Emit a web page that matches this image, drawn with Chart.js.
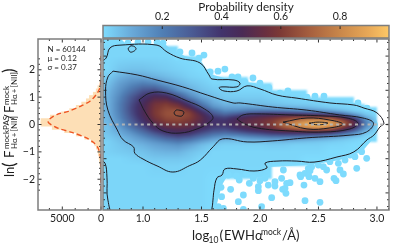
<!DOCTYPE html>
<html><head><meta charset="utf-8">
<style>html,body{margin:0;padding:0;background:#fff;overflow:hidden}canvas{position:absolute;left:0;top:0}</style>
<script src="https://cdn.jsdelivr.net/npm/chart.js@4/dist/chart.umd.min.js"></script>
</head><body>
<canvas id="hist" width="397" height="245"></canvas>
<canvas id="main" width="397" height="245"></canvas>
<canvas id="cbar" width="397" height="245"></canvas>
<script>
// ---------- DATA ----------
const mainXTicks=[1.0,1.5,2.0,2.5,3.0];
const mainXMinor=[0.7,0.8,0.9,1.1,1.2,1.3,1.4,1.6,1.7,1.8,1.9,2.1,2.2,2.3,2.4,2.6,2.7,2.8,2.9,3.1];
const yTicks=[-2,-1,0,1,2];
const yMinor=[-2.4,-2.2,-1.8,-1.6,-1.4,-1.2,-0.8,-0.6,-0.4,-0.2,0.2,0.4,0.6,0.8,1.2,1.4,1.6,1.8,2.2,2.4];
const histXTicks=[0,5000];
const histXMinor=[1667,3333,6667];
const cbarTicks=[0.2,0.4,0.6,0.8];
const cbarMinor=[];
const cmapV=[0,0.1,0.2,0.3,0.4,0.47,0.55,0.6,0.7,0.8,0.9,0.965];
const cmapC=['#7edbfd','#68a8d8','#507fb5','#4a5b94','#42336c','#4a2a55','#6a2f3f','#7d3a35','#a7603f','#c9874a','#e9aa58','#fdc866'];
const statsText=['N = 60144','\u03bc = 0.12','\u03c3 = 0.37'];

// histogram (bin centre, count)
const histY=[1.94,1.82,1.70,1.58,1.46,1.34,1.22,1.10,0.98,0.86,0.74,0.62,0.50,0.38,0.26,0.14,0.02,-0.10,-0.22,-0.34,-0.46,-0.58,-0.70,-0.82,-0.94,-1.06,-1.18,-1.30,-1.42,-1.54,-1.66,-1.78,-1.90,-2.02];
const histN=[20,40,60,100,150,400,620,1000,1500,1900,2500,3200,4050,5100,6550,7750,7750,6300,4700,3200,2100,1250,800,600,400,350,250,200,120,80,50,30,20,10];
// dashed curve over histogram
const curveY=[2.5,1.8,1.5,1.3,1.1,0.86,0.66,0.48,0.37,0.22,0.13,0.04,-0.14,-0.29,-0.47,-0.65,-0.85,-1.13,-1.6,-2.5];
const curveN=[10,20,50,200,600,1380,2675,4220,5650,6550,6850,6680,5510,3750,2030,1000,400,90,30,10];

// density grid (percent of unit density)
const heatX=[0.7,0.8,0.9,1.0,1.1,1.2,1.3,1.4,1.5,1.6,1.7,1.8,1.9,2.0,2.1,2.2,2.3,2.4,2.5,2.6,2.7,2.8,2.9,3.0];
const heatY=[2.0,1.6,1.4,1.2,1.0,0.8,0.6,0.5,0.4,0.3,0.2,0.1,0,-0.1,-0.2,-0.3,-0.4,-0.5,-0.6,-0.8,-1.0,-1.2,-1.6,-2.2];
const heatRows=[
[1,1,1,1,1,1,0,0,0,0,0,0,0,0,0,0,0,0,0,0,0,0,0,0],
[1,4,5,5,4,3,2,1,0,0,0,0,0,0,0,0,0,0,0,0,0,0,0,0],
[3,8,11,10,8,6,4,2,1,0,0,0,0,0,0,0,0,0,0,0,0,0,0,0],
[5,12,17,20,18,12,8,5,3,1,1,1,0,0,0,0,0,0,0,0,0,0,0,0],
[7,15,23,31,33,25,15,9,5,3,2,1,1,1,0,0,0,0,0,0,0,0,0,0],
[8,18,30,40,48,47,33,19,10,6,3,3,3,3,2,1,1,0,0,0,0,0,0,0],
[8,20,33,45,57,60,54,38,22,11,7,7,6,6,5,4,3,3,2,1,1,0,0,0],
[8,20,34,46,58,63,60,47,30,16,11,11,12,11,10,9,8,7,5,3,2,1,0,0],
[8,20,34,46,59,65,67,58,40,25,17,18,21,22,22,21,19,17,14,11,7,3,1,0],
[8,19,33,46,59,66,67,62,48,32,26,30,36,40,42,42,41,40,38,33,25,13,4,0],
[7,18,31,44,57,64,65,61,51,39,36,43,49,52,55,60,64,68,68,64,52,35,12,1],
[7,16,29,41,54,61,62,58,50,41,41,48,52,55,60,68,76,82,85,82,70,52,20,2],
[6,15,26,37,49,56,58,55,48,41,41,47,51,54,60,72,82,90,95,90,72,52,21,2],
[5,12,22,32,43,50,52,50,43,37,36,42,47,50,56,66,74,80,82,76,60,42,15,1],
[5,10,17,26,36,43,46,44,37,31,29,33,38,42,46,50,52,54,54,50,38,25,8,1],
[4,8,13,20,28,35,39,36,29,22,19,21,25,28,32,33,33,32,30,26,19,11,3,0],
[3,6,10,15,21,27,30,27,20,14,10,10,13,15,17,17,16,14,12,9,6,3,1,0],
[2,5,8,11,15,19,22,18,12,7,5,5,6,6,7,7,6,5,4,3,2,1,0,0],
[2,4,6,8,11,13,15,11,6,3,2,2,2,2,3,3,2,2,2,1,1,0,0,0],
[2,3,4,5,7,8,8,5,3,1,1,1,1,1,1,1,1,1,1,0,0,0,0,0],
[1,1,2,3,4,4,4,3,1,1,1,1,1,1,1,1,1,0,0,0,0,0,0,0],
[1,1,1,1,2,2,2,1,1,1,1,1,1,1,0,0,0,0,0,0,0,0,0,0],
[1,1,1,1,1,1,1,1,1,0,0,0,0,0,0,0,0,0,0,0,0,0,0,0],
[1,1,1,1,1,1,1,1,1,0,0,0,0,0,0,0,0,0,0,0,0,0,0,0]];

// region with measured galaxies
const supportX=[0.6,0.786,0.846,1.188,1.248,1.359,1.487,1.573,1.786,1.957,2.128,2.342,2.598,2.812,2.923,2.983,3.009,3.0,2.957,2.872,2.684,2.444,2.085,1.872,1.726,1.675,1.641,1.615,0.6];
const supportY=[2.6,2.6,2.38,2.35,2.18,2.0,1.89,1.48,1.27,1.21,0.95,0.77,0.72,0.63,0.48,0.25,0.01,-0.22,-0.45,-0.8,-1.04,-1.18,-1.24,-1.39,-1.48,-1.77,-2.21,-2.56,-2.6];

// isolated points
const dotX=[1.729,1.749,1.652,1.672,1.667,1.644,1.687,1.815,1.858,1.858,1.823,1.886,1.909,1.986,1.986,2.043,2.014,2.0,2.10,2.071,2.128,2.128,2.2,2.185,2.228,2.257,2.194,2.222,2.214,2.348,2.385,2.413,2.442,2.499,2.57,2.67,2.727,2.812,2.912,2.827,2.684,2.713,2.633,2.65,2.513,2.47,2.376,2.385,2.513,2.419,2.342,1.8,1.943,2.428,2.542,2.598,2.77,2.869,
1.521,1.479,1.641,1.70,1.573,1.761,1.812,1.872,1.94,2.0,2.077,2.171,2.239,2.402,2.47,2.547,2.838,2.915,1.316,1.419,1.29,1.171,1.12,0.87,0.957,1.043];
const dotY=[-1.477,-1.896,-1.672,-2.11,-1.838,-2.403,-2.452,-2.257,-2.062,-2.48,-1.623,-1.428,-1.721,-1.818,-1.935,-1.574,-2.403,-1.643,-2.14,-1.77,-1.672,-1.799,-1.331,-1.574,-1.721,-1.701,-1.896,-2.013,-1.867,-1.526,-1.428,-1.282,-1.233,-1.184,-1.331,-1.136,-1.038,-0.941,-0.99,-1.282,-1.331,-1.448,-1.574,-1.643,-1.672,-1.574,-1.77,-2.228,-2.276,-1.526,-1.477,-1.506,-1.574,-1.35,-1.233,-1.087,-0.892,-0.794,
2.03,1.94,1.56,1.62,1.54,1.39,1.39,1.24,1.36,1.21,1.07,0.92,0.98,0.80,0.83,0.83,0.63,0.48,2.12,2.09,1.97,2.38,2.41,2.38,2.41,2.41];

// contours
const c1X=[0.632,0.684,0.718,0.803,1.12,1.205,1.316,1.487,1.564,1.59,1.778,1.829,1.803,1.675,1.65,1.692,1.803,1.889,2.0,2.145,2.316,2.598,2.803,2.889,3.0,3.06,3.026,2.974,2.915,2.803,2.658,2.462,2.316,2.145,2.043,2.06,1.949,1.803,1.70,1.675,1.632,1.607,1.598,1.59,1.573,0.761,0.70,0.692,0.675,0.632];
const c1Y=[1.83,1.94,2.24,2.32,2.32,2.12,1.94,1.80,1.45,1.33,1.30,1.21,1.10,1.10,1.07,0.98,0.98,1.13,1.04,0.86,0.77,0.63,0.57,0.48,0.34,0.04,-0.07,-0.31,-0.45,-0.80,-0.95,-1.10,-1.07,-1.07,-1.13,-1.27,-1.36,-1.30,-1.30,-1.48,-1.56,-1.92,-2.21,-2.44,-2.62,-2.62,-2.21,-1.54,-1.13,-1.04];
const c1bX=[0.872,0.89,0.906,0.93,0.94,0.92,0.89,0.872];
const c1bY=[2.21,2.29,2.30,2.27,2.21,2.14,2.12,2.21];
const c2X=[0.744,0.95,1.12,1.34,1.55,1.77,1.83,2.11,2.40,2.68,2.88,2.97,2.91,2.77,2.40,2.11,1.89,1.68,1.60,1.49,1.40,1.256,1.12,1.0,0.93,0.92,0.83,0.78,0.70,0.68,0.70,0.744];
const c2Y=[1.56,1.45,1.30,1.10,0.86,0.63,0.63,0.51,0.42,0.28,0.19,0.04,-0.22,-0.31,-0.39,-0.48,-0.51,-0.42,-0.65,-1.04,-1.20,-1.39,-1.21,-1.01,-0.84,-0.66,-0.45,-0.16,0.42,1.0,1.39,1.56];
const c3X=[0.966,1.06,1.2,1.376,1.513,1.598,1.556,1.462,1.316,1.171,1.085,1.017,0.966];
const c3Y=[0.72,0.92,0.92,0.69,0.48,0.22,0.04,-0.13,-0.25,-0.19,0.04,0.37,0.72];
const c3bX=[1.803,1.855,1.974,2.256,2.538,2.744,2.838,2.769,2.538,2.256,1.974,1.855,1.803];
const c3bY=[0.16,0.28,0.31,0.28,0.25,0.19,0.04,-0.13,-0.22,-0.19,-0.10,0.04,0.16];
const c4X=[2.197,2.402,2.598,2.709,2.598,2.402,2.197];
const c4Y=[0.07,0.19,0.13,0.01,-0.10,-0.13,0.07];
const c5X=[2.42,2.496,2.581,2.496,2.42];
const c5Y=[0.04,0.07,0.04,-0.01,0.04];
const c6X=[1.265,1.282,1.308,1.342,1.35,1.333,1.299,1.274,1.265];
const c6Y=[0.34,0.42,0.42,0.39,0.34,0.25,0.25,0.28,0.34];
const zeroX=[0.658,3.103];
const zeroY=[0,0];

// ---------- HELPERS ----------
const FONT='Lato, "Noto Sans", sans-serif', INK='#1e1e1e', FRAME='#7d7d7d';
Chart.defaults.font.family=FONT;
Chart.defaults.animation=false;
Chart.defaults.responsive=false;
const zip=(xs,ys)=>xs.map((x,i)=>({x,y:ys[i]}));
const hex=c=>[1,3,5].map(i=>parseInt(c.substr(i,2),16));
const cmapRGB=cmapC.map(hex);
function cmap(v){
  if(v<=cmapV[0])return cmapRGB[0];
  for(let i=1;i<cmapV.length;i++){if(v<=cmapV[i]){const t=(v-cmapV[i-1])/(cmapV[i]-cmapV[i-1]);
    return cmapRGB[i].map((c,k)=>cmapRGB[i-1][k]+(c-cmapRGB[i-1][k])*t);}}
  return cmapRGB[cmapRGB.length-1];
}
function heatAt(x,y){
  const n=heatX.length,m=heatY.length;
  if(x<heatX[0])x=heatX[0];
  if(x>heatX[n-1]||y>heatY[0]+.3||y<heatY[m-1]-.3)return 0;
  let i=Math.min(n-2,Math.floor((x-heatX[0])/0.1)),tx=(x-heatX[i])/0.1;
  let j=0;while(j<m-2&&y<heatY[j+1])j++;
  let ty=(heatY[j]-y)/(heatY[j]-heatY[j+1]);ty=Math.max(0,Math.min(1,ty));
  const a=heatRows[j],b=heatRows[j+1];
  const top=a[i]+(a[i+1]-a[i])*tx,bot=b[i]+(b[i+1]-b[i])*tx;
  return (top+(bot-top)*ty)/100;
}
const heatPlugin={id:'heat',afterDatasetDraw(chart,args){
  if(args.index!==0)return;
  const {left,top,right,bottom}=chart.chartArea,sx=chart.scales.x,sy=chart.scales.y;
  const W=Math.round(right-left),H=Math.round(bottom-top);
  const off=document.createElement('canvas');off.width=W;off.height=H;
  const o=off.getContext('2d'),img=o.createImageData(W,H);
  for(let r=0;r<H;r++){const vy=sy.getValueForPixel(top+r+.5);
    for(let c=0;c<W;c++){const v=heatAt(sx.getValueForPixel(left+c+.5),vy);
      if(v<=0)continue;const rgb=cmap(v),p=(r*W+c)*4;
      img.data[p]=rgb[0];img.data[p+1]=rgb[1];img.data[p+2]=rgb[2];img.data[p+3]=255;}}
  o.putImageData(img,0,0);
  const ctx=chart.ctx;ctx.save();ctx.beginPath();ctx.rect(left,top,W,H);ctx.clip();
  ctx.filter='blur(1px)';ctx.drawImage(off,left,top);ctx.restore();
}};
function framePlugin(id,xs,xm,ys,ym,opt={}){return {id,afterDraw(chart){
  const {left,top,right,bottom}=chart.chartArea,ctx=chart.ctx,sx=chart.scales.x,sy=chart.scales.y;
  ctx.save();
  ctx.strokeStyle=INK;ctx.lineWidth=0.9;
  const tick=(a,b,c,d)=>{ctx.beginPath();ctx.moveTo(a,b);ctx.lineTo(c,d);ctx.stroke();};
  const both=opt.topOnly?['t']:['t','b'];
  [[xs,3.5],[xm,2]].forEach(([arr,l])=>arr.forEach(v=>{const p=sx.getPixelForValue(v);
    if(p<left||p>right)return;
    if(both.includes('t'))tick(p,top,p,top+l);
    if(both.includes('b'))tick(p,bottom,p,bottom-l);}));
  [[ys,3.5],[ym,2]].forEach(([arr,l])=>arr.forEach(v=>{const p=sy.getPixelForValue(v);
    tick(left,p,left+l,p);tick(right,p,right-l,p);}));
  ctx.strokeStyle=FRAME;ctx.lineWidth=1.5;ctx.strokeRect(left,top,right-left,bottom-top);
  ctx.restore();
}};}
const tickFont={family:FONT,size:10.5};
const axisX=(h,extra)=>Object.assign({type:'linear',grid:{display:false,drawTicks:false},border:{display:false},afterFit:s=>{s.height=h;}},extra);
const axisY=(w,extra)=>Object.assign({type:'linear',grid:{display:false,drawTicks:false},border:{display:false},afterFit:s=>{s.width=w;}},extra);
const common={plugins:{legend:{display:false},tooltip:{enabled:false}}};

// ---------- HISTOGRAM ----------
const statsPlugin={id:'stats',afterDraw(chart){const ctx=chart.ctx;ctx.save();ctx.fillStyle=INK;ctx.font='8px '+FONT;
  ctx.textBaseline='middle';ctx.textAlign='left';
  statsText.forEach((t,i)=>ctx.fillText(t,47.5,49.5+i*9));ctx.restore();}};
new Chart(document.getElementById('hist'),{
  type:'bar',
  data:{datasets:[
    {type:'line',indexAxis:'x',data:zip(curveN,curveY),borderColor:'#ee5522',borderWidth:1.4,borderDash:[5,3],pointRadius:0,tension:.3,fill:false,order:0},
    {type:'bar',data:zip(histN,histY),backgroundColor:'#fddfb6',borderWidth:0,barThickness:4.4,order:1}
  ]},
  options:{...common,indexAxis:'y',layout:{padding:{left:0,right:296,top:39,bottom:15}},
    scales:{
      x:axisX(20,{position:'bottom',min:0,max:8140,reverse:true,afterBuildTicks:s=>{s.ticks=histXTicks.map(value=>({value}));},
        ticks:{font:tickFont,color:INK,padding:2,maxRotation:0,autoSkip:false,callback:v=>String(v)}}),
      y:axisY(38,{position:'left',min:-2.5,max:2.5,afterBuildTicks:s=>{s.ticks=yTicks.map(value=>({value}));},
        ticks:{font:tickFont,color:INK,padding:3,autoSkip:false,callback:v=>v<0?'\u2212'+(-v):String(v)}})
    }},
  plugins:[framePlugin('fh',histXTicks,histXMinor,yTicks,yMinor),statsPlugin]
});

// ---------- AXIS LABELS ----------
const labelPlugin={id:'labels',afterDraw(chart){
  const ctx=chart.ctx;ctx.save();ctx.fillStyle=INK;ctx.textBaseline='alphabetic';ctx.textAlign='left';
  const put=(t,x,y,s)=>{ctx.font=s+'px '+FONT;ctx.fillText(t,x,y);};
  // x label
  put('log',192,240,13);put('10',208.5,243,8.5);put('(',219.5,240,14);
  put('EWH\u03b1',224,240,13);put('mock',261,234.5,8.5);put('/\u00c5)',282,240,13);
  // y label
  ctx.translate(14,0);ctx.rotate(-Math.PI/2);
  const py=p=>-p;
  put('ln',py(177),0,13);
  put('(',py(167),1,17);
  put('F',py(158),0,13);
  put('mockPAS',py(149),-5,8);put('H\u03b1\u2009+\u2009[NII]',py(149),3,8);
  put('/',py(120),0,13);
  put('F',py(113),0,13);
  put('mock',py(105),-5,8);put('H\u03b1\u2009+\u2009[NII]',py(105),3,8);
  put(')',py(73),1,17);
  ctx.restore();
}};

// ---------- MAIN PANEL ----------
const contour=(xs,ys)=>({type:'line',data:zip(xs,ys),borderColor:'#1c1c24',borderWidth:1,pointRadius:0,tension:.4,fill:false,order:2});
new Chart(document.getElementById('main'),{
  type:'line',
  data:{datasets:[
    {data:zip(supportX,supportY),backgroundColor:'#7edbfd',borderColor:'#7edbfd',borderWidth:0,pointRadius:0,fill:'shape',tension:0,order:10},
    {type:'scatter',data:zip(dotX,dotY),backgroundColor:'#7edbfd',borderWidth:0,pointRadius:3.4,order:9},
    contour(c1X,c1Y),contour(c1bX,c1bY),contour(c2X,c2Y),contour(c3X,c3Y),contour(c3bX,c3bY),contour(c4X,c4Y),contour(c5X,c5Y),contour(c6X,c6Y),
    {data:zip(zeroX,zeroY),borderColor:'rgba(180,180,180,.95)',borderWidth:1.8,borderDash:[3,3.3],pointRadius:0,fill:false,order:1}
  ]},
  options:{...common,layout:{padding:{left:103,right:8,top:39,bottom:15}},
    scales:{
      x:axisX(20,{position:'bottom',min:0.658,max:3.103,afterBuildTicks:s=>{s.ticks=mainXTicks.map(value=>({value}));},
        ticks:{font:tickFont,color:INK,padding:2,maxRotation:0,autoSkip:false,callback:v=>v.toFixed(1)}}),
      y:axisY(0,{position:'left',min:-2.5,max:2.5,afterBuildTicks:s=>{s.ticks=yTicks.map(value=>({value}));},ticks:{display:false}})
    }},
  plugins:[heatPlugin,framePlugin('fm',mainXTicks,mainXMinor,yTicks,yMinor),labelPlugin]
});

// ---------- COLOUR BAR ----------
new Chart(document.getElementById('cbar'),{
  type:'bar',
  data:{labels:['d'],datasets:[{data:[0.965],borderWidth:0,categoryPercentage:1,barPercentage:1,
    backgroundColor:ctx=>{const c=ctx.chart,s=c.scales.x;if(!c.chartArea)return cmapC[0];
      const g=c.ctx.createLinearGradient(s.getPixelForValue(0),0,s.getPixelForValue(0.965),0);
      cmapV.forEach((v,i)=>g.addColorStop(v/0.965,cmapC[i]));return g;}}]},
  options:{...common,indexAxis:'y',layout:{padding:{left:103,right:8,top:0,bottom:207}},
    scales:{
      x:axisX(25.5,{position:'top',min:0,max:0.965,afterBuildTicks:s=>{s.ticks=cbarTicks.map(value=>({value}));},
        ticks:{font:tickFont,color:INK,padding:3,maxRotation:0,autoSkip:false,callback:v=>v.toFixed(1)}}),
      y:{type:'category',display:false}
    }},
  plugins:[framePlugin('fc',cbarTicks,cbarMinor,[],[],{topOnly:true}),{id:'cbt',afterDraw(chart){const ctx=chart.ctx;ctx.save();
    ctx.fillStyle=INK;ctx.font='11.7px '+FONT;ctx.textAlign='center';ctx.textBaseline='alphabetic';
    ctx.fillText('Probability density',246,11);ctx.restore();}}]
});
</script>
</body></html>
